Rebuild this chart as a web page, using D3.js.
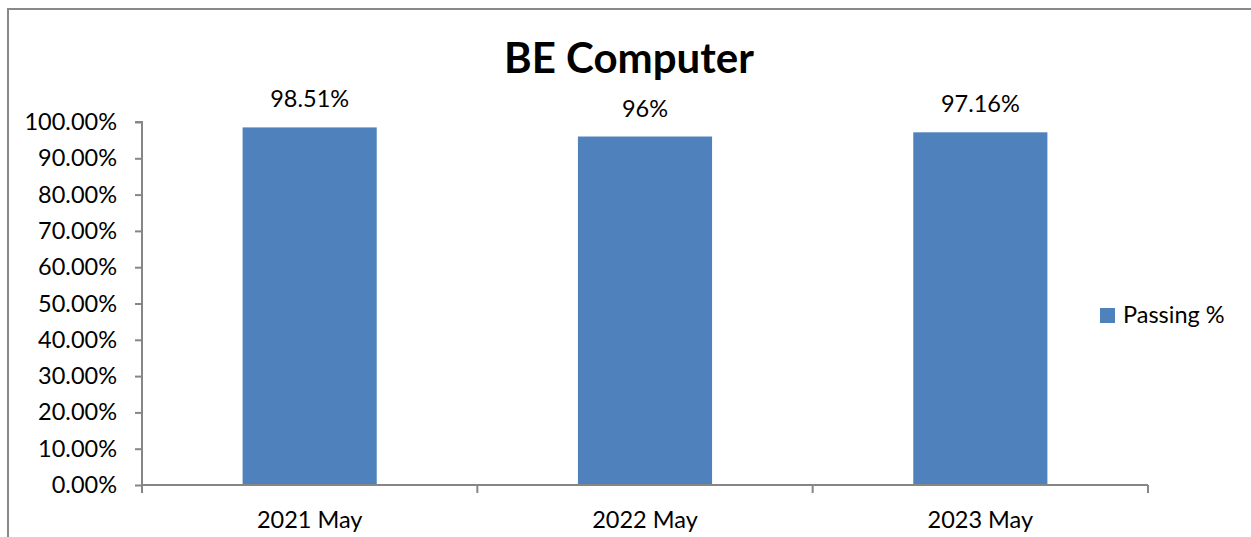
<!DOCTYPE html>
<html>
<head>
<meta charset="utf-8">
<script src="https://cdn.jsdelivr.net/npm/d3@7"></script>
<style>
  html, body { margin: 0; padding: 0; background: #fff; }
  svg { display: block; font-family: Lato, "Open Sans", sans-serif; }
</style>
</head>
<body>
<svg id="chart" width="1251" height="537"></svg>
<script>
const title = "BE Computer";
const categories = ["2021 May", "2022 May", "2023 May"];
const passing = [98.51, 96, 97.16];
const valueLabels = ["98.51%", "96%", "97.16%"];
const yTicks = [0, 10, 20, 30, 40, 50, 60, 70, 80, 90, 100];
const seriesName = "Passing %";

const svg = d3.select("#chart");
const W = 1251, H = 537;
const barColor = "#4F81BD";
const axisColor = "#868686";
const fs = 23.5;

// chart border (left + top visible)
svg.append("path")
  .attr("d", `M8,${H} L8,9 L${W},9`)
  .attr("fill", "none").attr("stroke", "#898989").attr("stroke-width", 2);

const plot = { left: 142, right: 1148, top: 122, bottom: 485 };
const x = d3.scaleBand().domain(categories).range([plot.left, plot.right]).padding(0);
const y = d3.scaleLinear().domain([0, 100]).range([plot.bottom, plot.top]);

// bars
const barW = x.bandwidth() * 0.4;
svg.append("g").selectAll("rect").data(categories).join("rect")
  .attr("x", d => x(d) + (x.bandwidth() - barW) / 2)
  .attr("y", (d, i) => y(passing[i]))
  .attr("width", barW)
  .attr("height", (d, i) => y(0) - y(passing[i]))
  .attr("fill", barColor);

// value labels
svg.append("g").selectAll("text").data(categories).join("text")
  .attr("x", d => x(d) + x.bandwidth() / 2)
  .attr("y", (d, i) => y(passing[i]) - 20)
  .attr("text-anchor", "middle")
  .attr("font-size", fs)
  .attr("fill", "#000")
  .text((d, i) => valueLabels[i]);

// y axis
const yAxis = d3.axisLeft(y).tickValues(yTicks)
  .tickFormat(d => d.toFixed(2) + "%").tickSize(7).tickPadding(18);
const gy = svg.append("g").attr("transform", `translate(${plot.left},0)`).call(yAxis);
gy.select(".domain").attr("d", `M-7,${plot.top}H0V${plot.bottom + 8}`).attr("stroke", axisColor).attr("stroke-width", 2);
gy.selectAll(".tick line").attr("stroke", axisColor).attr("stroke-width", 2);
gy.selectAll(".tick text").attr("font-size", fs).attr("fill", "#000")
  .attr("font-family", "Lato, 'Open Sans', sans-serif");

// x axis
const gx = svg.append("g").attr("transform", `translate(0,${plot.bottom})`);
gx.append("line").attr("x1", plot.left).attr("x2", plot.right)
  .attr("stroke", axisColor).attr("stroke-width", 2);
const bounds = categories.map(d => x(d)).concat([plot.right]);
gx.selectAll("line.t").data(bounds).join("line").attr("class", "t")
  .attr("x1", d => d).attr("x2", d => d).attr("y1", 0).attr("y2", 8)
  .attr("stroke", axisColor).attr("stroke-width", 2);
gx.selectAll("text").data(categories).join("text")
  .attr("x", d => x(d) + x.bandwidth() / 2)
  .attr("y", 43)
  .attr("text-anchor", "middle")
  .attr("font-size", fs)
  .attr("fill", "#000")
  .text(d => d);

// title
svg.append("text")
  .attr("x", 629).attr("y", 73)
  .attr("text-anchor", "middle")
  .attr("font-size", 42).attr("font-weight", "bold")
  .attr("fill", "#000")
  .text(title);

// legend
const lg = svg.append("g").attr("transform", "translate(1100,308)");
lg.append("rect").attr("width", 15).attr("height", 15).attr("fill", barColor);
lg.append("text").attr("x", 23).attr("y", 15).attr("font-size", fs).attr("fill", "#000").text(seriesName);
</script>
</body>
</html>
